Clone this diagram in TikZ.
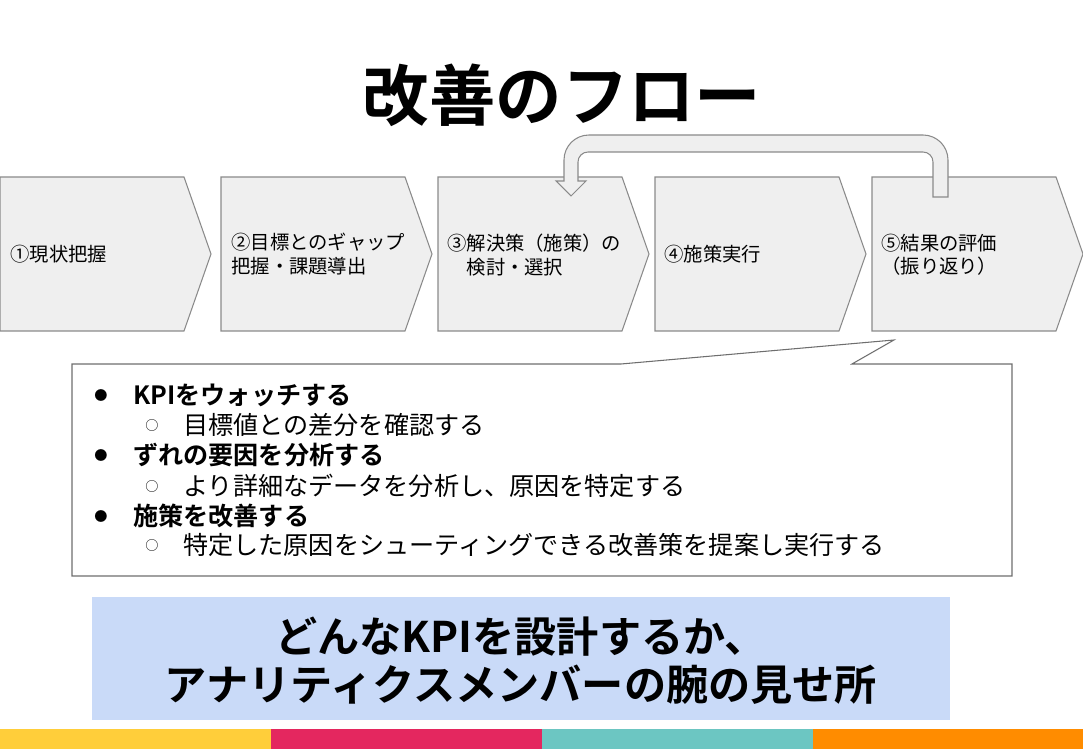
\documentclass[tikz,border=0pt]{standalone}
\usepackage{fontspec}
\setmainfont{Noto Sans CJK JP}[BoldFont={Noto Sans CJK JP Bold}]
\usetikzlibrary{positioning}
\definecolor{chevfill}{HTML}{EFEFEF}
\definecolor{chevline}{HTML}{8A8A8A}
\definecolor{boxline}{HTML}{6E6E6E}
\definecolor{noteblue}{HTML}{C9DAF8}
\definecolor{baryellow}{HTML}{FFCE3A}
\definecolor{barpink}{HTML}{E4275F}
\definecolor{barteal}{HTML}{6CC6C2}
\definecolor{barorange}{HTML}{FF8C00}

\tikzset{
  chev/.style={fill=chevfill, draw=chevline, line width=0.6pt},
  steptext/.style={anchor=west, align=left, inner sep=0pt, font=\fontsize{11pt}{13.2pt}\selectfont},
  itemtext/.style={anchor=west, inner sep=0pt, font=\fontsize{14.3pt}{16pt}\selectfont},
  itembold/.style={itemtext, font=\fontsize{14.3pt}{16pt}\selectfont\bfseries},
  dotmark/.style={anchor=center, inner sep=0pt, font=\fontsize{7.5pt}{9pt}\selectfont},
}

\begin{document}
\begin{tikzpicture}[x=0.02cm, y=-0.02cm]
\useasboundingbox (0,0) rectangle (1083,749);

% title
\node[font=\fontsize{37.8pt}{40pt}\selectfont\bfseries, inner sep=0pt] (title) at (562,95) {改善のフロー};

% chevrons
\foreach \x in {0,221,438,655,872}{
  \draw[chev] (\x,177) -- (\x+184,177) -- (\x+211,254) -- (\x+184,331) -- (\x,331) -- cycle;
}
\node[steptext] (s1) at (10,254) {①現状把握};
\node[steptext] (s2) at (231,254) {②目標とのギャップ\\把握・課題導出};
\node[steptext] (s3) at (447,255) {③解決策（施策）の\\\hspace*{1em}検討・選択};
\node[steptext] (s4) at (664,254) {④施策実行};
\node[steptext] (s5) at (881,255) {⑤結果の評価\\（振り返り）};

% loop back arrow
\draw[chev] (948,197) -- (948,160) arc(0:-90:25) -- (589,135) arc(-90:-180:25)
  -- (564,181) -- (556,181) -- (571,196) -- (586,181) -- (578,181)
  -- (578,162) arc(180:270:10) -- (923,152) arc(270:360:10) -- (933,197) -- cycle;

% callout
\draw[fill=white, draw=boxline, line width=0.6pt] (72,364) -- (621,364) -- (894,340) -- (852,364)
  -- (1012,364) -- (1012,576) -- (72,576) -- cycle;
\node[dotmark] (b1) at (101,395) {●};
\node[itembold] (i1) at (133,395) {KPIをウォッチする};
\node[dotmark] (c1) at (152,425) {○};
\node[itemtext] (j1) at (183,425) {目標値との差分を確認する};
\node[dotmark] (b2) at (101,455) {●};
\node[itembold] (i2) at (133,455) {ずれの要因を分析する};
\node[dotmark] (c2) at (152,486) {○};
\node[itemtext] (j2) at (183,486) {より詳細なデータを分析し、原因を特定する};
\node[dotmark] (b3) at (101,516) {●};
\node[itembold] (i3) at (133,516) {施策を改善する};
\node[dotmark] (c3) at (152,545) {○};
\node[itemtext] (j3) at (183,545) {特定した原因をシューティングできる改善策を提案し実行する};

% message box
\fill[noteblue] (92,597) rectangle (950,720);
\node[align=center, inner sep=0pt, font=\fontsize{24pt}{27.4pt}\selectfont\bfseries] (msg) at (521,661)
  {どんなKPIを設計するか、\\アナリティクスメンバーの腕の見せ所};

% colour bar
\fill[baryellow] (0,729) rectangle (271,749);
\fill[barpink] (271,729) rectangle (542,749);
\fill[barteal] (542,729) rectangle (813,749);
\fill[barorange] (813,729) rectangle (1083,749);
\end{tikzpicture}
\end{document}
